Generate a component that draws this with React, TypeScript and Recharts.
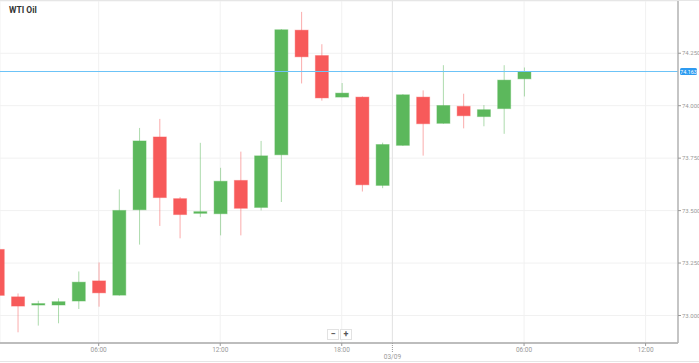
import React from 'react';
import {
  Bar,
  CartesianGrid,
  ComposedChart,
  ReferenceLine,
  XAxis,
  YAxis,
} from 'recharts';

// hourly WTI candles, index = slot on the time axis
const opens = [73.315, 73.089, 73.052, 73.05, 73.069, 73.165, 73.097, 73.504, 73.851, 73.557, 73.487, 73.485, 73.644, 73.515, 73.766, 74.36, 74.239, 74.041, 74.041, 73.62, 73.811, 74.041, 73.916, 73.997, 73.948, 73.986, 74.128];
const highs = [73.318, 73.105, 73.07, 73.082, 73.21, 73.253, 73.601, 73.894, 73.937, 73.565, 73.823, 73.704, 73.781, 73.832, 74.365, 74.447, 74.293, 74.108, 74.044, 73.824, 74.055, 74.073, 74.193, 74.057, 74.003, 74.193, 74.182];
const lows = [73.094, 72.92, 72.952, 72.963, 73.031, 73.042, 73.095, 73.338, 73.427, 73.368, 73.469, 73.382, 73.382, 73.501, 73.541, 74.106, 74.024, 74.04, 73.591, 73.607, 73.808, 73.762, 73.914, 73.892, 73.902, 73.866, 74.044];
const closes = [73.096, 73.045, 73.057, 73.066, 73.159, 73.108, 73.501, 73.832, 73.562, 73.481, 73.495, 73.64, 73.511, 73.761, 74.362, 74.233, 74.037, 74.06, 73.623, 73.815, 74.052, 73.914, 74.001, 73.952, 73.981, 74.122, 74.162];

const timeTicks = [5, 11, 17, 19.5, 26, 32];
const timeLabels = ['06:00', '12:00', '18:00', '03/09', '06:00', '12:00'];
const priceTicks = [73.0, 73.25, 73.5, 73.75, 74.0, 74.25];
const lastPrice = 74.163;

const UP = '#5cb85c';
const DOWN = '#f75a5a';
const PRICE_LINE = '#6cc3f7';

const data = opens.map((open, i) => ({
  idx: i,
  open,
  high: highs[i],
  low: lows[i],
  close: closes[i],
}));

const Candle = (props: any) => {
  const { x, y, width, height, payload } = props;
  if (x === undefined || !payload) return null;
  const top = Math.min(y, y + height);
  const bottom = Math.max(y, y + height);
  const span = payload.high - payload.low || 1;
  const toPx = (v: number) => top + ((payload.high - v) / span) * (bottom - top);
  const up = payload.close >= payload.open;
  const color = up ? UP : DOWN;
  const bodyTop = toPx(Math.max(payload.open, payload.close));
  const bodyBottom = toPx(Math.min(payload.open, payload.close));
  const cx = x + width / 2;
  return (
    <g>
      <line x1={cx} x2={cx} y1={top} y2={bottom} stroke={color} strokeOpacity={0.5} strokeWidth={1} />
      <rect
        x={x}
        y={bodyTop}
        width={width}
        height={Math.max(bodyBottom - bodyTop, 1.5)}
        fill={color}
        stroke={color}
        strokeOpacity={0.4}
      />
    </g>
  );
};

const TimeTick = (props: any) => {
  const { x, y, payload } = props;
  const i = timeTicks.indexOf(payload.value);
  const label = timeLabels[i] ?? '';
  const isDay = payload.value === 19.5;
  return (
    <g>
      {isDay ? (
        <line x1={x} x2={x} y1={y} y2={y + 9} stroke="#999" strokeDasharray="1 1" />
      ) : (
        <line x1={x} x2={x} y1={y} y2={y + 3} stroke="#999" />
      )}
      <text x={x} y={isDay ? y + 16 : y + 9} textAnchor="middle" fontSize={6.5} fill="#999">
        {label}
      </text>
    </g>
  );
};

const PriceTick = (props: any) => {
  const { x, y, payload } = props;
  return (
    <g>
      <line x1={x} x2={x + 3} y1={y} y2={y} stroke="#999" />
      <text x={x + 4} y={y + 2.2} fontSize={6} fill="#999">
        {Number(payload.value).toFixed(3)}
      </text>
    </g>
  );
};

// the current-price line plus its tag on the price axis
const PriceLine = (props: any) => {
  const { x1, x2, y1 } = props;
  if (x1 === undefined) return null;
  const right = Math.max(x1, x2);
  const py = Math.floor(y1) + 0.5;
  return (
    <g>
      <line x1={x1} x2={x2} y1={py} y2={py} stroke={PRICE_LINE} strokeWidth={1} shapeRendering="crispEdges" />
      <rect x={right + 2} y={py - 3.5} width={17} height={7} rx={1.5} fill="#2e9bf0" />
      <text x={right + 10.5} y={py + 2} textAnchor="middle" fontSize={5.5} fill="#fff">
        {lastPrice.toFixed(3)}
      </text>
    </g>
  );
};

export default function App() {
  return (
    <div
      style={{
        position: 'absolute',
        left: 0,
        top: 0,
        width: 699,
        height: 363,
        fontFamily: 'Roboto, sans-serif',
        background: '#fff',
      }}
    >
      <ComposedChart
        width={699}
        height={362}
        data={data}
        margin={{ top: 1, right: 0, bottom: 0, left: 0 }}
        barSize={13}
        style={{ fontFamily: 'Roboto, sans-serif' }}
      >
        <CartesianGrid stroke="#f1f1f1" strokeWidth={1} />
        <XAxis
          dataKey="idx"
          type="number"
          domain={[0.128, 33.6]}
          allowDataOverflow
          ticks={timeTicks}
          interval={0}
          tick={<TimeTick />}
          tickLine={false}
          tickSize={0}
          tickMargin={0}
          axisLine={{ stroke: '#bdbdbd', strokeWidth: 2 }}
          height={19}
        />
        <YAxis
          orientation="right"
          domain={[72.869, 74.499]}
          allowDataOverflow
          ticks={priceTicks}
          interval={0}
          tick={<PriceTick />}
          tickLine={false}
          tickSize={0}
          tickMargin={0}
          axisLine={{ stroke: '#b5b5b5', strokeWidth: 1.5 }}
          width={21}
        />
        <ReferenceLine x={19.5} stroke="#e4e4e4" strokeWidth={1} />
        <Bar
          dataKey={(d: any) => [d.low, d.high]}
          shape={<Candle />}
          isAnimationActive={false}
        />
        <ReferenceLine y={lastPrice} shape={PriceLine} />
      </ComposedChart>
      <div style={{ position: 'absolute', left: 0, top: 0, width: 699, borderTop: '1px solid #e6e6e6' }} />
      <div style={{ position: 'absolute', left: 0, top: 361, width: 699, borderTop: '1px solid #e6e6e6' }} />
      <div
        style={{
          position: 'absolute',
          left: 9,
          top: 5,
          fontSize: 8.5,
          fontWeight: 700,
          color: '#333',
        }}
      >
        WTI Oil
      </div>
      <div style={{ position: 'absolute', left: 327, top: 329, display: 'flex', gap: 1 }}>
        {['−', '+'].map((s) => (
          <div
            key={s}
            style={{
              width: 10,
              height: 9,
              border: '1px solid #e2e2e2',
              background: '#fff',
              fontSize: 9,
              lineHeight: '9px',
              textAlign: 'center',
              color: '#555',
              fontWeight: 700,
            }}
          >
            {s}
          </div>
        ))}
      </div>
    </div>
  );
}
